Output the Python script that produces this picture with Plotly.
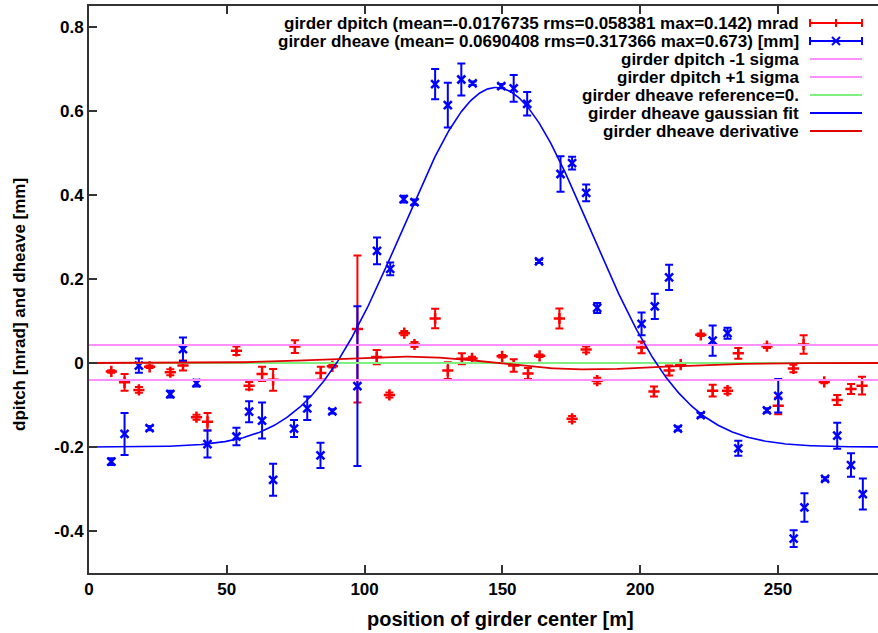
import numpy as np
import plotly.graph_objects as go

# ---------------- data ----------------
pitch_x = [8.1, 12.9, 18.1, 22.0, 29.5, 34.1, 39.0, 43.0, 53.5, 58.1, 62.8, 66.8, 74.7, 84.1, 88.3,
           97.4, 104.4, 109.0, 114.4, 118.1, 125.6, 130.2, 135.3, 139.0, 149.9, 154.1, 159.3, 163.5,
           170.7, 175.3, 180.4, 184.4, 200.5, 205.0, 210.5, 214.7, 222.0, 226.3, 231.7, 235.6, 246.0,
           250.1, 255.6, 259.3, 266.8, 271.5, 276.5, 280.5]
pitch_y = [-0.020, -0.046, -0.064, -0.009, -0.022, -0.006, -0.129, -0.140, 0.029, -0.054, -0.026, -0.040,
           0.039, -0.024, -0.008, 0.081, 0.014, -0.076, 0.071, 0.044, 0.106, -0.018, 0.010, 0.011, 0.016,
           -0.006, -0.025, 0.017, 0.106, -0.133, 0.032, -0.042, 0.037, -0.068, -0.018, -0.004, 0.067,
           -0.066, -0.066, 0.023, 0.040, -0.102, -0.013, 0.044, -0.045, -0.088, -0.062, -0.054]
pitch_err = [0.003, 0.020, 0.007, 0.003, 0.007, 0.012, 0.006, 0.021, 0.010, 0.009, 0.017, 0.026,
             0.015, 0.015, 0.003, 0.175, 0.017, 0.006, 0.005, 0.006, 0.023, 0.020, 0.013, 0.004, 0.003,
             0.015, 0.013, 0.003, 0.024, 0.007, 0.007, 0.007, 0.014, 0.012, 0.012, 0.003, 0.003,
             0.014, 0.007, 0.013, 0.004, 0.020, 0.009, 0.022, 0.003, 0.012, 0.012, 0.021]

heave_x = [8.1, 12.9, 18.1, 22.0, 29.5, 34.1, 39.0, 43.0, 53.5, 58.1, 62.8, 66.8, 74.4, 79.2, 84.0, 88.3,
           97.4, 104.5, 109.3, 114.2, 118.1, 125.6, 130.2, 135.1, 139.2, 149.6, 154.1, 159.0, 163.3,
           171.1, 175.3, 180.4, 184.4, 200.5, 205.3, 210.5, 213.7, 222.0, 226.3, 231.7, 235.6, 246.0,
           250.1, 255.7, 259.6, 267.1, 271.5, 276.5, 280.8]
heave_y = [-0.235, -0.169, -0.006, -0.155, -0.074, 0.033, -0.048, -0.193, -0.175, -0.116, -0.137, -0.278,
           -0.156, -0.108, -0.220, -0.115, -0.055, 0.267, 0.224, 0.390, 0.383, 0.664, 0.614, 0.675, 0.666,
           0.659, 0.654, 0.617, 0.242, 0.450, 0.476, 0.405, 0.131, 0.093, 0.135, 0.204, -0.156, -0.124,
           0.053, 0.071, -0.203, -0.113, -0.078, -0.418, -0.344, -0.276, -0.173, -0.243, -0.312]
heave_err = [0.008, 0.050, 0.017, 0.005, 0.008, 0.028, 0.008, 0.032, 0.021, 0.025, 0.043, 0.038,
             0.020, 0.028, 0.030, 0.005, 0.190, 0.032, 0.015, 0.008, 0.006, 0.036, 0.053, 0.038, 0.004,
             0.005, 0.032, 0.028, 0.004, 0.042, 0.015, 0.020, 0.012, 0.027, 0.030, 0.030, 0.005, 0.005,
             0.036, 0.013, 0.018, 0.005, 0.040, 0.020, 0.034, 0.004, 0.031, 0.028, 0.037]

# sigma band lines for dpitch and reference
sigma_minus = -0.0405
sigma_plus = 0.043
reference = 0.0

# gaussian fit parameters for dheave
g_base = -0.200
g_amp = 0.856
g_mu = 147.8
g_sigma = 34.0

x_ticks = [0, 50, 100, 150, 200, 250]
y_ticks = [-0.4, -0.2, 0, 0.2, 0.4, 0.6, 0.8]
y_tick_text = ["-0.4", "-0.2", "0", "0.2", "0.4", "0.6", "0.8"]

legend_labels = [
    "girder dpitch (mean=-0.0176735 rms=0.058381 max=0.142) mrad",
    "girder dheave (mean= 0.0690408 rms=0.317366 max=0.673) [mm]",
    "girder dpitch -1 sigma",
    "girder dpitch +1 sigma",
    "girder dheave reference=0.",
    "girder dheave gaussian fit",
    "girder dheave derivative",
]

X_RANGE = [0, 286.3]
Y_RANGE = [-0.5, 0.85]

# ---------------- figure ----------------
W, H = 878, 633
ML, MR, MT, MB = 89, 0, 6, 60
FONT = "Liberation Sans, Arial, sans-serif"
RED = "#ff0000"
BLUE = "#0000ff"
PINK = "#ff90ff"
GREEN = "#80f080"
DRED = "#e00000"

xf = np.linspace(X_RANGE[0], X_RANGE[1], 600)
gauss = g_base + g_amp * np.exp(-(xf - g_mu) ** 2 / (2 * g_sigma ** 2))
deriv = -g_amp * (xf - g_mu) / g_sigma ** 2 * np.exp(-(xf - g_mu) ** 2 / (2 * g_sigma ** 2))

fig = go.Figure()
fig.add_trace(go.Scatter(
    x=pitch_x, y=pitch_y, mode="markers",
    marker=dict(symbol="cross-thin", size=8, line=dict(color=RED, width=2.5), color=RED),
    error_y=dict(type="data", array=pitch_err, visible=True, color=RED, thickness=2, width=4),
    showlegend=False))
fig.add_trace(go.Scatter(
    x=heave_x, y=heave_y, mode="markers",
    marker=dict(symbol="x-thin", size=8, line=dict(color=BLUE, width=2.5), color=BLUE),
    error_y=dict(type="data", array=heave_err, visible=True, color=BLUE, thickness=2, width=4),
    showlegend=False))
for val, col in [(sigma_minus, PINK), (sigma_plus, PINK), (reference, GREEN)]:
    fig.add_trace(go.Scatter(x=X_RANGE, y=[val, val], mode="lines",
                             line=dict(color=col, width=2), showlegend=False))
fig.add_trace(go.Scatter(x=xf, y=gauss, mode="lines", line=dict(color=BLUE, width=1.6), showlegend=False))
fig.add_trace(go.Scatter(x=xf, y=deriv, mode="lines", line=dict(color=DRED, width=1.8), showlegend=False))

PW = W - ML - MR
PH = H - MT - MB


def px(xp):
    return (xp - ML) / PW


def py(yp):
    return (H - MB - yp) / PH


shapes = []
annotations = []
row_y = [23, 41, 59, 77, 95, 113, 131]
text_right = 800
s0, s1 = 810, 862
sample_colors = [RED, BLUE, PINK, PINK, GREEN, BLUE, DRED]
for i, (lab, yy) in enumerate(zip(legend_labels, row_y)):
    annotations.append(dict(text=lab, xref="paper", yref="paper", x=px(text_right), y=py(yy),
                            xanchor="right", yanchor="middle", showarrow=False, borderpad=0,
                            font=dict(family=FONT, size=17, color="#000000", weight="bold")))
    col = sample_colors[i]
    shapes.append(dict(type="line", xref="paper", yref="paper", x0=px(s0), x1=px(s1), y0=py(yy), y1=py(yy),
                       line=dict(color=col, width=2)))
    if i < 2:
        for ex in (s0, s1):
            shapes.append(dict(type="line", xref="paper", yref="paper", x0=px(ex), x1=px(ex),
                               y0=py(yy - 4), y1=py(yy + 4), line=dict(color=col, width=2)))
        mx = (s0 + s1) / 2
        if i == 0:
            shapes.append(dict(type="line", xref="paper", yref="paper", x0=px(mx), x1=px(mx),
                               y0=py(yy - 4), y1=py(yy + 4), line=dict(color=col, width=2)))
        else:
            shapes.append(dict(type="line", xref="paper", yref="paper", x0=px(mx - 4), x1=px(mx + 4),
                               y0=py(yy - 4), y1=py(yy + 4), line=dict(color=col, width=2)))
            shapes.append(dict(type="line", xref="paper", yref="paper", x0=px(mx - 4), x1=px(mx + 4),
                               y0=py(yy + 4), y1=py(yy - 4), line=dict(color=col, width=2)))

# axis titles
annotations.append(dict(text="position of girder center [m]", xref="paper", yref="paper",
                        x=px(500), y=py(619), xanchor="center", yanchor="middle", showarrow=False,
                        font=dict(family=FONT, size=20, color="#000000", weight="bold")))
annotations.append(dict(text="dpitch [mrad] and dheave [mm]", xref="paper", yref="paper",
                        x=px(19), y=py(305), xanchor="center", yanchor="middle", showarrow=False,
                        textangle=-90,
                        font=dict(family=FONT, size=17, color="#000000", weight="bold")))

axis_common = dict(showgrid=False, zeroline=False, showline=True, linecolor="#333333", linewidth=2,
                   ticks="inside", ticklen=8, tickwidth=2, tickcolor="#333333",
                   tickfont=dict(family=FONT, size=17, color="#000000", weight="bold"))

fig.update_layout(
    width=W, height=H,
    margin=dict(l=ML, r=MR, t=MT, b=MB),
    paper_bgcolor="white", plot_bgcolor="white",
    font=dict(family=FONT, size=17, color="#000000", weight="bold"),
    xaxis=dict(range=X_RANGE, tickvals=x_ticks, ticktext=[str(v) for v in x_ticks], mirror="ticks",
               **axis_common),
    yaxis=dict(range=Y_RANGE, tickvals=y_ticks, ticktext=y_tick_text, mirror=False, **axis_common),
    shapes=shapes, annotations=annotations, showlegend=False,
)

fig.write_html("out.html")
